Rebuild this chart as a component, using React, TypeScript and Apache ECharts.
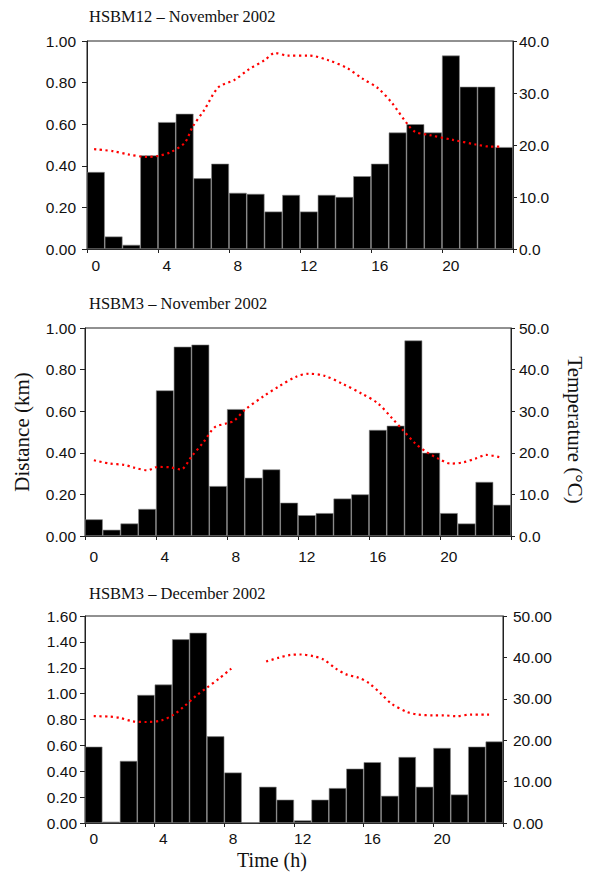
import React, { useEffect, useRef } from 'react';
import * as echarts from 'echarts';

const hours = ['0','1','2','3','4','5','6','7','8','9','10','11','12','13','14','15','16','17','18','19','20','21','22','23'];

const titles = ['HSBM12 – November 2002', 'HSBM3 – November 2002', 'HSBM3 – December 2002'];

// Distance (km) per hour
const distNov12 = [0.37,0.06,0.02,0.45,0.61,0.65,0.34,0.41,0.27,0.265,0.18,0.26,0.18,0.26,0.25,0.35,0.41,0.56,0.60,0.56,0.93,0.78,0.78,0.49];
const distNov3 = [0.08,0.03,0.06,0.13,0.70,0.91,0.92,0.24,0.61,0.28,0.32,0.16,0.10,0.11,0.18,0.20,0.51,0.53,0.94,0.40,0.11,0.06,0.26,0.15];
const distDec3 = [0.59,0.01,0.48,0.99,1.07,1.42,1.47,0.67,0.39,0.005,0.28,0.18,0.02,0.18,0.27,0.42,0.47,0.21,0.51,0.28,0.58,0.22,0.59,0.63];

// Temperature (°C): time of reading (h) and value
const tTimeNov12 = [0.4,1.5,2.3,3.4,4.0,4.7,5.5,5.95,6.6,7.4,8.3,9.1,10.0,10.6,11.3,12.5,13.6,14.7,15.5,16.4,17.2,18.1,18.5,19.3,20.6,21.9,22.7,23.4];
const tempNov12 = [19.2,18.8,18.2,17.7,17.9,18.6,20.4,23.5,26.7,31.1,32.5,34.5,36.3,37.7,37.2,37.2,36.3,34.7,32.8,30.9,28.0,23.8,22.5,21.9,21.0,20.1,19.7,19.7];

const tTimeNov3 = [0.5,1.4,2.2,2.8,3.5,4.1,4.8,5.4,6.0,6.7,7.3,8.0,8.4,9.0,10.1,10.9,11.9,12.6,13.5,14.5,15.6,16.5,17.3,17.9,18.6,19.2,19.9,20.6,21.3,22.0,22.6,23.4];
const tempNov3 = [18.2,17.4,17.1,16.4,15.8,16.6,16.5,16.0,19.1,22.7,26.1,27.1,27.7,30.3,33.7,35.9,38.3,39.0,38.5,36.6,34.2,31.9,28.3,25.5,22.3,20.3,18.6,17.4,17.7,18.6,19.5,18.9];

const tTimeDec3 = [0.5,1.4,2.0,2.7,3.5,4.4,5.1,5.7,6.4,7.0,7.7,8.4,9.4,10.4,11.1,11.8,12.4,13.1,13.7,14.4,15.0,15.7,16.3,17.0,17.6,18.5,19.1,20.0,20.6,21.3,22.2,23.2];
const tempDec3: (number | string)[] = [25.8,25.7,25.4,24.6,24.4,24.8,26.2,28.2,30.8,32.7,34.9,37.3,'-',39.0,39.9,40.6,40.7,40.3,39.5,37.3,35.9,35.1,33.8,31.2,28.8,26.8,26.2,26.0,26.0,25.8,26.2,26.2];

const SANS = "'Liberation Sans', Arial, sans-serif";
const SERIF = "'Liberation Serif', 'DejaVu Serif', serif";
const AX = '#222';
const TICK_FS = 15.5;

export default function App() {
  const ref = useRef<HTMLDivElement>(null);
  useEffect(() => {
    if (!ref.current) return;
    const chart = echarts.init(ref.current, undefined, { renderer: 'svg' });

    const panels = [
      { grid: { left: 87, right: 78, top: 41, height: 208 }, dist: distNov12, tt: tTimeNov12, tv: tempNov12,
        lmax: 1, rmax: 40, rdec: 1, lmargin: 11, rmargin: 6, xmargin: 8 },
      { grid: { left: 85, right: 80, top: 328, height: 208 }, dist: distNov3, tt: tTimeNov3, tv: tempNov3,
        lmax: 1, rmax: 50, rdec: 1, lmargin: 9, rmargin: 8, xmargin: 12 },
      { grid: { left: 85, right: 88, top: 616, height: 207 }, dist: distDec3, tt: tTimeDec3, tv: tempDec3,
        lmax: 1.6, rmax: 50, rdec: 2, lmargin: 8, rmargin: 10, xmargin: 7 },
    ];

    const grid: any[] = [];
    const xAxis: any[] = [];
    const yAxis: any[] = [];
    const series: any[] = [];

    panels.forEach((p, k) => {
      grid.push({ ...p.grid, show: true, borderColor: AX, borderWidth: 1, backgroundColor: 'transparent' });
      xAxis.push({
        type: 'category', gridIndex: k, data: hours, boundaryGap: true,
        axisLine: { show: true, lineStyle: { color: AX, width: 1 } },
        axisTick: { show: true, interval: 3, length: 4, lineStyle: { color: AX } },
        axisLabel: { interval: 3, color: '#111', fontSize: TICK_FS, fontFamily: SANS, margin: p.xmargin, lineHeight: 16 },
        splitLine: { show: false },
      });
      xAxis.push({ type: 'value', gridIndex: k, min: 0, max: 24, show: false });
      yAxis.push({
        type: 'value', gridIndex: k, position: 'left', min: 0, max: p.lmax, interval: 0.2,
        axisLine: { show: true, lineStyle: { color: AX, width: 1 } },
        axisTick: { show: true, length: 5, lineStyle: { color: AX } },
        axisLabel: { color: '#111', fontSize: TICK_FS, fontFamily: SANS, margin: p.lmargin, formatter: (v: number) => v.toFixed(2) },
        splitLine: { show: false },
      });
      yAxis.push({
        type: 'value', gridIndex: k, position: 'right', min: 0, max: p.rmax, interval: 10,
        axisLine: { show: true, lineStyle: { color: AX, width: 1 } },
        axisTick: { show: true, length: 4, lineStyle: { color: AX } },
        axisLabel: { color: '#111', fontSize: TICK_FS, fontFamily: SANS, margin: p.rmargin, formatter: (v: number) => v.toFixed(p.rdec) },
        splitLine: { show: false },
      });
      series.push({
        type: 'bar', xAxisIndex: 2 * k, yAxisIndex: 2 * k, data: p.dist,
        barCategoryGap: '0%', barWidth: '100%',
        itemStyle: { color: '#000', borderColor: '#888', borderWidth: 0.6 },
      });
      series.push({
        type: 'line', xAxisIndex: 2 * k + 1, yAxisIndex: 2 * k + 1,
        data: p.tt.map((t, i) => [t, p.tv[i]]),
        showSymbol: false, smooth: 0.3, connectNulls: false, z: 5,
        lineStyle: { color: '#ff0000', width: 2.2, type: [2.2, 3.5] },
      });
    });

    const graphic = [
      { type: 'text', left: 89, top: 8, style: { text: titles[0], fill: '#111', fontSize: 16.5, fontFamily: SERIF } },
      { type: 'text', left: 89, top: 295, style: { text: titles[1], fill: '#111', fontSize: 16.5, fontFamily: SERIF } },
      { type: 'text', left: 89, top: 585, style: { text: titles[2], fill: '#111', fontSize: 16.5, fontFamily: SERIF } },
      { type: 'text', x: 22, y: 432, rotation: Math.PI / 2,
        style: { text: 'Distance (km)', fill: '#111', fontSize: 21, fontFamily: SERIF, align: 'center', verticalAlign: 'middle' } },
      { type: 'text', x: 575, y: 430, rotation: -Math.PI / 2,
        style: { text: 'Temperature (°C)', fill: '#111', fontSize: 21, fontFamily: SERIF, align: 'center', verticalAlign: 'middle' } },
      { type: 'text', x: 272, y: 860,
        style: { text: 'Time (h)', fill: '#111', fontSize: 20, fontFamily: SERIF, align: 'center', verticalAlign: 'middle' } },
    ];

    chart.setOption({
      animation: false,
      backgroundColor: '#fff',
      grid, xAxis, yAxis, series, graphic,
    });
    return () => chart.dispose();
  }, []);
  return <div ref={ref} style={{ position: 'absolute', left: 0, top: 0, width: 591, height: 872 }} />;
}
